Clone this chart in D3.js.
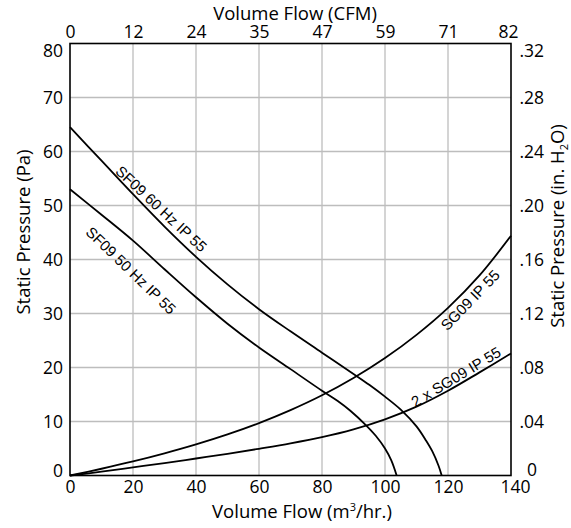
<!DOCTYPE html>
<html lang="en">
<head>
<meta charset="utf-8">
<title>Fan curves</title>
<script src="https://d3js.org/d3.v7.min.js"></script>
<style>
  body { margin: 0; background: #fff; }
  text { font-family: "Open Sans", sans-serif; fill: #000; }
  .curveLabel { font-family: "Liberation Sans", Arial, sans-serif; font-size: 15px; }
</style>
</head>
<body>
<svg id="chart" width="571" height="528"></svg>
<script>
// ---- data (flow in m3/hr, pressure in Pa) ----
var flowTicks = [0, 20, 40, 60, 80, 100, 120, 140];
var cfmLabels = ["0", "12", "24", "35", "47", "59", "71", "82"];
var paTicks = [0, 10, 20, 30, 40, 50, 60, 70, 80];
var inchLabels = ["0", ".04", ".08", ".12", ".16", ".20", ".24", ".28", ".32"];

var sf09_60 = [[0, 64.5], [10, 58.3], [20, 52.1], [30, 46.1], [40, 40.5], [50, 35.4], [60, 30.8], [70, 26.7],
  [80, 22.75], [90, 18.8], [95, 16.8], [100, 14.6], [105, 12.2], [110, 9.1], [113, 6.5], [115, 4.5], [117, 1.8], [118, 0]];
var sf09_50 = [[0, 53], [10, 48.3], [20, 43.5], [30, 38.2], [40, 33], [50, 28.1], [60, 23.7], [70, 19.7],
  [80, 15.7], [85, 13.8], [89, 12.0], [94, 9.3], [97, 7.4], [100, 5.0], [102, 2.8], [103.7, 0]];
var sg09 = [[0, 0], [10, 1.25], [20, 2.6], [30, 4.1], [40, 5.75], [50, 7.6], [60, 9.7], [70, 12.1], [80, 14.85],
  [90, 18.05], [100, 21.75], [110, 26.05], [120, 31.05], [130, 37.05], [140, 44.4]];
var sg09x2 = [[0, 0], [10, 0.7], [20, 1.5], [30, 2.3], [40, 3.15], [50, 4.0], [60, 4.95], [70, 5.95], [80, 7.1],
  [90, 8.55], [100, 10.4], [110, 12.75], [120, 15.7], [130, 19.1], [140, 22.6]];

// label text, anchor flow, anchor Pa, rotation
var labelText = ["SF09 60 Hz IP 55", "SF09 50 Hz IP 55", "SG09 IP 55", "2 x SG09 IP 55"];
var labelFlow = [29, 19.4, 127, 122.5];
var labelPa = [49.4, 38.0, 32.5, 18.3];
var labelAngle = [43, 44, -46, -31];

// ---- canvas ----
var margin = { top: 43.5, left: 70, right: 60, bottom: 52.5 },
    width = 571 - margin.left - margin.right,
    height = 528 - margin.top - margin.bottom;

var svg = d3.select("#chart");

var x = d3.scaleLinear().domain([0, 140]).range([margin.left, margin.left + width]);
var y = d3.scaleLinear().domain([0, 80]).range([margin.top + height, margin.top]);

// grid
var grid = svg.append("g").attr("stroke", "#bdbdbd").attr("stroke-width", 1.3);
grid.selectAll(".vx").data(flowTicks.slice(1, -1)).enter().append("line")
  .attr("x1", function (d) { return x(d) }).attr("x2", function (d) { return x(d) })
  .attr("y1", y(0)).attr("y2", y(80));
grid.selectAll(".hy").data(paTicks.slice(1, -1)).enter().append("line")
  .attr("x1", x(0)).attr("x2", x(140))
  .attr("y1", function (d) { return y(d) }).attr("y2", function (d) { return y(d) });

// axes
var fs = "17.5px";
var axBottom = svg.append("g").attr("transform", "translate(0," + y(0) + ")")
  .call(d3.axisBottom(x).tickValues(flowTicks).tickSize(0).tickPadding(5));
var axTop = svg.append("g").attr("transform", "translate(0," + y(80) + ")")
  .call(d3.axisTop(x).tickValues(flowTicks).tickSize(0).tickPadding(5.5)
    .tickFormat(function (d, i) { return cfmLabels[i] }));
var axLeft = svg.append("g").attr("transform", "translate(" + x(0) + ",0)")
  .call(d3.axisLeft(y).tickValues(paTicks).tickSize(0).tickPadding(7));
var axRight = svg.append("g").attr("transform", "translate(" + x(140) + ",0)")
  .call(d3.axisRight(y).tickValues(paTicks).tickSize(0).tickPadding(8.5)
    .tickFormat(function (d, i) { return inchLabels[i] }));

[axBottom, axTop, axLeft, axRight].forEach(function (g) {
  g.select(".domain").remove();
  g.selectAll("text").style("font-size", fs).attr("fill", "#000")
    .style("font-family", "'Open Sans', sans-serif");
});
// end labels nudged inside like the original
axLeft.selectAll("text").filter(function (d) { return d === 80 }).attr("dy", "0.75em");
axLeft.selectAll("text").filter(function (d) { return d === 0 }).attr("dy", "0.07em");
axRight.selectAll("text").filter(function (d) { return d === 80 }).attr("dy", "0.73em");
axRight.selectAll("text").filter(function (d) { return d === 0 }).attr("dy", "0.02em").attr("x", 16);
axBottom.selectAll("text").filter(function (d) { return d === 140 }).attr("dx", 4);
axTop.selectAll("text").filter(function (d) { return d === 140 }).attr("dx", -3);

// frame
svg.append("rect")
  .attr("x", x(0)).attr("y", y(80))
  .attr("width", x(140) - x(0)).attr("height", y(0) - y(80))
  .attr("fill", "none").attr("stroke", "#000").attr("stroke-width", 1.6);

// curves
var line = d3.line()
  .x(function (d) { return x(d[0]) })
  .y(function (d) { return y(d[1]) })
  .curve(d3.curveCatmullRom.alpha(0.5));

svg.selectAll(".curve").data([sf09_60, sf09_50, sg09, sg09x2]).enter().append("path")
  .attr("d", line)
  .attr("fill", "none").attr("stroke", "#000").attr("stroke-width", 1.8);

// curve labels
labelText.forEach(function (t, i) {
  svg.append("text").attr("class", "curveLabel")
    .attr("transform", "translate(" + x(labelFlow[i]) + "," + y(labelPa[i]) + ") rotate(" + labelAngle[i] + ")")
    .attr("text-anchor", "middle").attr("dominant-baseline", "central")
    .text(t);
});

// axis titles
svg.append("text").attr("x", 295).attr("y", 20).attr("text-anchor", "middle")
  .style("font-size", "18.5px").text("Volume Flow (CFM)");

var bt = svg.append("text").attr("x", 302).attr("y", 518).attr("text-anchor", "middle")
  .style("font-size", "18.5px");
bt.append("tspan").text("Volume Flow (m");
bt.append("tspan").attr("dy", -7).style("font-size", "11px").text("3");
bt.append("tspan").attr("dy", 7).text("/hr.)");

svg.append("text").attr("transform", "translate(30,232) rotate(-90)").attr("text-anchor", "middle")
  .style("font-size", "18.5px").text("Static Pressure (Pa)");

var rt = svg.append("text").attr("transform", "translate(564,226) rotate(-90)").attr("text-anchor", "middle")
  .style("font-size", "18.5px");
rt.append("tspan").text("Static Pressure (in. H");
rt.append("tspan").attr("dy", 4).style("font-size", "11px").text("2");
rt.append("tspan").attr("dy", -4).text("O)");
</script>
</body>
</html>
